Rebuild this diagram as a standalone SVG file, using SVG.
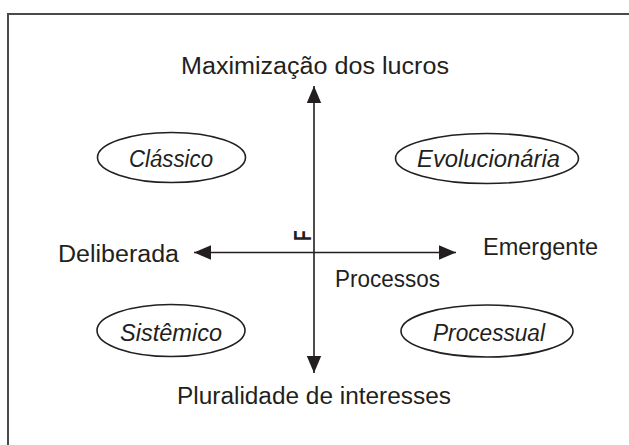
<svg xmlns="http://www.w3.org/2000/svg" width="629" height="445" viewBox="0 0 629 445">
<style>
  .lbl{font-family:"Liberation Sans",Arial,sans-serif;font-size:23px;fill:#231f20;}
  .it{font-style:italic;}
  .ell{fill:none;stroke:#231f20;stroke-width:1.6;}
  .axis{stroke:#231f20;stroke-width:1.6;fill:none;}
</style>
<defs>
  <marker id="ah" markerUnits="userSpaceOnUse" markerWidth="18" markerHeight="16" viewBox="0 0 18 16" refX="17" refY="8" orient="auto">
    <path d="M0,0.8 L17,8 L0,15.2 Z" fill="#231f20"/>
  </marker>
</defs>
<rect width="629" height="445" fill="#ffffff"/>
<path d="M8,445 V14 H629" fill="none" stroke="#4a4a4a" stroke-width="2"/>

<g id="connectors">
  <line class="axis" x1="314" y1="252.5" x2="314" y2="86" marker-end="url(#ah)"/>
  <line class="axis" x1="314" y1="252.5" x2="314" y2="373" marker-end="url(#ah)"/>
  <line class="axis" x1="314" y1="252.5" x2="194" y2="252.5" marker-end="url(#ah)"/>
  <line class="axis" x1="314" y1="252.5" x2="456" y2="252.5" marker-end="url(#ah)"/>
</g>

<g id="top-label"><text class="lbl" x="181" y="74" textLength="268" lengthAdjust="spacingAndGlyphs">Maximização dos lucros</text></g>
<g id="bottom-label"><text class="lbl" x="177" y="404" textLength="274" lengthAdjust="spacingAndGlyphs">Pluralidade de interesses</text></g>
<g id="left-label"><text class="lbl" x="58" y="262" textLength="121" lengthAdjust="spacingAndGlyphs">Deliberada</text></g>
<g id="right-label"><text class="lbl" x="483" y="255" textLength="115" lengthAdjust="spacingAndGlyphs">Emergente</text></g>
<g id="processos"><text class="lbl" x="335" y="287" textLength="105" lengthAdjust="spacingAndGlyphs">Processos</text></g>
<g id="f-mark"><text x="0" y="0" transform="translate(311,241) rotate(-90) scale(0.72,1)" style="font-family:'Liberation Sans',Arial,sans-serif;font-size:24px;font-weight:bold;fill:#231f20">F</text></g>

<g id="classico">
  <ellipse class="ell" cx="171.5" cy="157.5" rx="74" ry="25"/>
  <text class="lbl it" x="129" y="167" textLength="84" lengthAdjust="spacingAndGlyphs">Clássico</text>
</g>
<g id="evolucionaria">
  <ellipse class="ell" cx="487" cy="158.5" rx="91.5" ry="25"/>
  <text class="lbl it" x="417" y="167" textLength="143" lengthAdjust="spacingAndGlyphs">Evolucionária</text>
</g>
<g id="sistemico">
  <ellipse class="ell" cx="171" cy="330.5" rx="74" ry="26"/>
  <text class="lbl it" x="120" y="341" textLength="102" lengthAdjust="spacingAndGlyphs">Sistêmico</text>
</g>
<g id="processual">
  <ellipse class="ell" cx="487" cy="331" rx="86" ry="26"/>
  <text class="lbl it" x="433" y="341" textLength="112" lengthAdjust="spacingAndGlyphs">Processual</text>
</g>
</svg>
